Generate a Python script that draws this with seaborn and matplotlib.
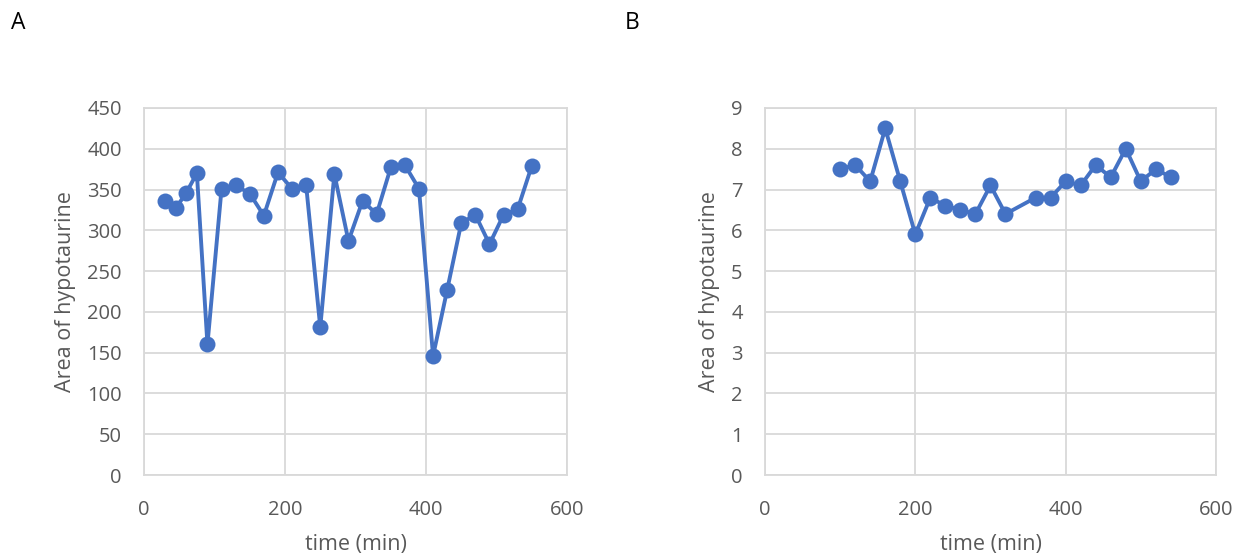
import matplotlib
matplotlib.use("Agg")
import matplotlib.pyplot as plt
import seaborn as sns
import pandas as pd

# ── Data ─────────────────────────────────────────────────────────────────────
TIME_A = [30, 45, 60, 75, 90, 110, 130, 150, 170, 190, 210, 230, 250, 270,
          290, 310, 330, 350, 370, 390, 410, 430, 450, 470, 490, 510, 530, 550]
AREA_A = [336, 327, 346, 370, 160, 351, 355, 345, 318, 371, 351, 355, 181, 369,
          287, 336, 320, 377, 380, 351, 146, 227, 309, 319, 283, 319, 326, 379]

TIME_B = [100, 120, 140, 160, 180, 200, 220, 240, 260, 280, 300, 320,
          360, 380, 400, 420, 440, 460, 480, 500, 520, 540]
AREA_B = [7.5, 7.6, 7.2, 8.5, 7.2, 5.9, 6.8, 6.6, 6.5, 6.4, 7.1, 6.4,
          6.8, 6.8, 7.2, 7.1, 7.6, 7.3, 8.0, 7.2, 7.5, 7.3]

X_TICKS = [0, 200, 400, 600]
Y_TICKS_A = list(range(0, 451, 50))
Y_TICKS_B = list(range(0, 10))

LINE_COLOR = "#4472C4"
GRID_COLOR = "#D9D9D9"
TEXT_COLOR = "#595959"

sns.set_style("white")
plt.rcParams["font.family"] = ["Open Sans", "DejaVu Sans"]

fig = plt.figure(figsize=(12.37, 5.57), dpi=100)
ax_a = fig.add_axes([0.1164, 0.1472, 0.342, 0.659])
ax_b = fig.add_axes([0.6184, 0.1472, 0.3646, 0.659])


def draw_panel(ax, t, y, yticks):
    df = pd.DataFrame({"time": t, "area": y})
    sns.lineplot(data=df, x="time", y="area", ax=ax, color=LINE_COLOR,
                 linewidth=2.8, marker="o", markersize=11.5,
                 markeredgewidth=0, zorder=3)
    ax.set_xlim(0, 600)
    ax.set_ylim(yticks[0], yticks[-1])
    ax.set_xticks(X_TICKS)
    ax.set_yticks(yticks)
    ax.grid(True, color=GRID_COLOR, linewidth=1.3)
    for s in ax.spines.values():
        s.set_color(GRID_COLOR)
        s.set_linewidth(1.3)
    ax.tick_params(axis="y", length=0, labelsize=14.5,
                   labelcolor=TEXT_COLOR, pad=16)
    ax.tick_params(axis="x", length=0, labelsize=14.5,
                   labelcolor=TEXT_COLOR, pad=18)
    ax.set_xlabel("time (min)", fontsize=15.5, color=TEXT_COLOR, labelpad=10)
    ax.set_ylabel("Area of hypotaurine", fontsize=15.5, color=TEXT_COLOR,
                  labelpad=8)
    for line in ax.get_lines():
        line.set_clip_on(False)


draw_panel(ax_a, TIME_A, AREA_A, Y_TICKS_A)
draw_panel(ax_b, TIME_B, AREA_B, Y_TICKS_B)

fig.text(0.009, 0.959, "A", fontsize=16.5, color="black", va="center")
fig.text(0.505, 0.959, "B", fontsize=16.5, color="black", va="center")

fig.savefig("out.png", dpi=100)
